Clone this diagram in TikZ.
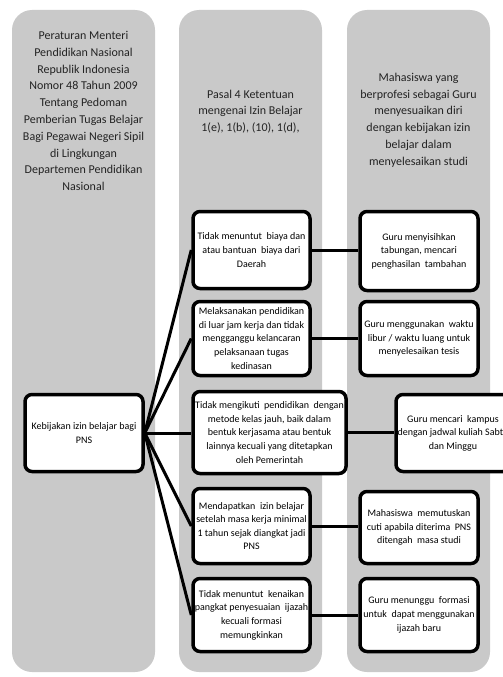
\documentclass[tikz,border=0pt]{standalone}
\usepackage{fontspec}
\setmainfont{Carlito}
\definecolor{colgray}{RGB}{201,201,201}
\definecolor{titletext}{RGB}{35,35,35}
\begin{document}
\begin{tikzpicture}[x=1pt,y=-1pt,
  column/.style={fill=colgray, draw=none, rounded corners=20pt},
  title/.style={align=center, text=titletext, font=\fontsize{12}{16.8}\selectfont, inner sep=0pt},
  item/.style={draw=black, line width=3.5pt, fill=white, rounded corners=7pt, align=center,
    font=\fontsize{10}{13.6}\selectfont, inner sep=0pt},
  link/.style={draw=black, line width=3pt}
]
\useasboundingbox (0,0) rectangle (503,677);
\fill[white] (0,0) rectangle (503,677);
% columns
\path[column] (12,10) rectangle (155,672);
\path[column] (179,10) rectangle (322,672);
\path[column] (347,10) rectangle (490,672);
% titles
\node[title] (t1) at (83.5,111) {Peraturan Menteri\\Pendidikan Nasional\\Republik Indonesia\\Nomor 48 Tahun 2009\\Tentang Pedoman\\Pemberian Tugas Belajar\\Bagi Pegawai Negeri Sipil\\di Lingkungan\\Departemen Pendidikan\\Nasional};
\node[title] (t2) at (250.5,111.5) {Pasal 4 Ketentuan\\mengenai Izin Belajar\\1(e), 1(b), (10), 1(d),};
\node[title] (t3) at (418.5,120) {Mahasiswa yang\\berprofesi sebagai Guru\\menyesuaikan diri\\dengan kebijakan izin\\belajar dalam\\menyelesaikan studi};
% left box
\node[item, minimum width=118pt, minimum height=77pt] (L) at (84,433) {Kebijakan izin belajar bagi\\PNS};
% middle boxes
\node[item, minimum width=117pt, minimum height=77pt] (b1) at (251.5,250) {Tidak menuntut\ \ biaya dan\\atau bantuan\ \ biaya dari\\Daerah};
\node[item, minimum width=117pt, minimum height=74pt] (b2) at (251.5,338.5) {Melaksanakan pendidikan\\di luar jam kerja dan tidak\\mengganggu kelancaran\\pelaksanaan tugas\\kedinasan};
\node[item, minimum width=153pt, minimum height=82pt] (b3) at (269.5,432.5) {Tidak mengikuti\ \ pendidikan\ \ dengan\\metode kelas jauh, baik dalam\\bentuk kerjasama atau bentuk\\lainnya kecuali yang ditetapkan\\oleh Pemerintah};
\node[item, minimum width=117pt, minimum height=75pt] (b4) at (251.5,526) {Mendapatkan\ \ izin belajar\\setelah masa kerja minimal\\1 tahun sejak diangkat jadi\\PNS};
\node[item, minimum width=117pt, minimum height=73pt] (b5) at (251.5,615) {Tidak menuntut\ \ kenaikan\\pangkat penyesuaian\ \ ijazah\\kecuali formasi\\memungkinkan};
% right boxes
\node[item, minimum width=118pt, minimum height=79pt] (r1) at (419,251) {Guru menyisihkan\\tabungan, mencari\\penghasilan\ \ tambahan};
\node[item, minimum width=118pt, minimum height=74pt] (r2) at (419,338.5) {Guru menggunakan\ \ waktu\\libur / waktu luang untuk\\menyelesaikan tesis};
\node[item, minimum width=114pt, minimum height=77pt] (r3) at (453,433) {Guru mencari\ \ kampus\\dengan jadwal kuliah Sabtu\\dan Minggu};
\node[item, minimum width=118pt, minimum height=72pt] (r4) at (419,527.5) {Mahasiswa\ \ memutuskan\\cuti apabila diterima\ \ PNS\\ditengah\ \ masa studi};
\node[item, minimum width=118pt, minimum height=73pt] (r5) at (419,615) {Guru menunggu\ \ formasi\\untuk\ \ dapat menggunakan\\ijazah baru};
% connectors
\draw[link] (L.east) -- (b1.west);
\draw[link] (L.east) -- (b2.west);
\draw[link] (L.east) -- (b3.west |- L.east);
\draw[link] (L.east) -- (b4.west);
\draw[link] (L.east) -- (b5.west);
\draw[link] (b1.east) -- (r1.west |- b1.east);
\draw[link] (b2.east) -- (r2.west |- b2.east);
\draw[link] (b3.east) -- (r3.west |- b3.east);
\draw[link] (b4.east) -- (r4.west |- b4.east);
\draw[link] (b5.east) -- (r5.west |- b5.east);
\end{tikzpicture}
\end{document}
